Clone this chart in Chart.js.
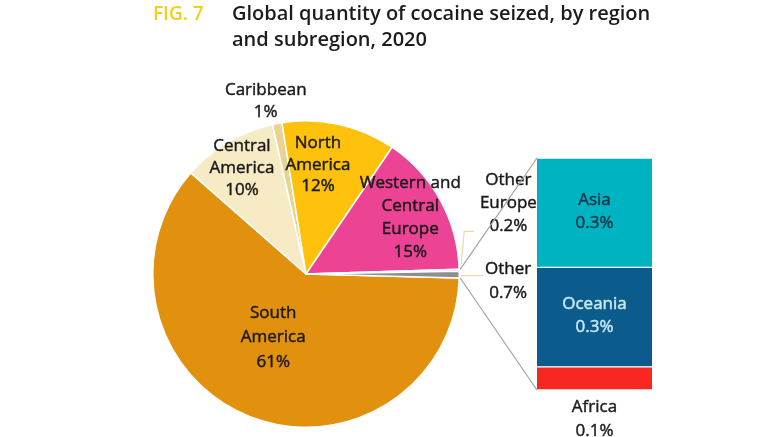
<!DOCTYPE html>
<html><head><meta charset="utf-8">
<script src="https://cdn.jsdelivr.net/npm/chart.js@4"></script>
<style>
html,body{margin:0;padding:0;background:#fff;width:767px;height:437px;overflow:hidden;}
#wrap{position:relative;width:767px;height:437px;}
canvas{position:absolute;left:0;top:0;}
.t{position:absolute;font-family:"Open Sans";font-weight:600;font-size:20px;line-height:26px;color:#1c1c1c;white-space:nowrap;}
</style></head><body>
<div id="wrap">
<canvas id="pie" width="767" height="437" style="width:767px;height:437px"></canvas>
<canvas id="bar" width="767" height="437" style="width:767px;height:437px"></canvas>
<div class="t" style="left:153px;top:0px;color:#F2CF1D;font-size:19px">FIG. 7</div>
<div class="t" style="left:232px;top:0px">Global quantity of cocaine seized, by region<br>and subregion, 2020</div>
</div>
<script>
// ---- data ----
const regionNames = ['South America','Central America','Caribbean','North America','Western and Central Europe','Other Europe','Other'];
const regionShares = [61, 10, 1, 12, 15, 0.2, 0.7];
const regionLabelLines = [['South','America'],['Central','America'],['Caribbean'],['North','America'],['Western and','Central','Europe'],['Other','Europe'],['Other']];
const otherNames = ['Asia','Oceania','Africa'];
const otherShares = [0.33, 0.30, 0.07];

// ---- styles / layout ----
const regionColors = ['#E2910E','#F7EBC5','#EBD28E','#FEC20C','#EC4395','#D8C3DC','#8E8E8E'];
const otherColors = ['#00B3C1','#0C5B8D','#F7271F'];
const otherTextColors = ['#17344A','#C8EAF8','#1e1e1e'];
const pieLabelLayout = [
  {da:6, r:0.465, lh:24.5}, {da:-0.4, r:0.81, lh:22}, {da:-2.3, r:1.155, lh:22}, {da:-6.3, r:0.717, lh:21.5},
  {da:0.3, r:0.774, lh:23}, {da:-18, r:1.40, lh:23}, {da:1.8, r:1.32, lh:24}
];
const FONT = '17px "Open Sans"';
const LH = 23;
const fmt = v => (v >= 1 ? String(v) : v.toFixed(1)) + '%';
function boldText(ctx, t, x, y){
  ctx.fillText(t, x, y);
  ctx.lineWidth = 0.45; ctx.strokeStyle = ctx.fillStyle; ctx.strokeText(t, x, y);
}

const pieLabelPlugin = {
  id:'pieLabels',
  afterDatasetsDraw(chart){
    const ctx = chart.ctx, arcs = chart.getDatasetMeta(0).data;
    ctx.save();
    // leader lines
    const oe = arcs[5], ot = arcs[6];
    ctx.strokeStyle = '#E9DCA6'; ctx.lineWidth = 1.2;
    let m = (oe.startAngle+oe.endAngle)/2;
    let ex = oe.x + Math.cos(m)*oe.outerRadius, ey = oe.y + Math.sin(m)*oe.outerRadius;
    ctx.beginPath(); ctx.moveTo(ex+2, ey-6); ctx.lineTo(ex+5, ey-39); ctx.lineTo(ex+15, ey-39); ctx.stroke();
    m = (ot.startAngle+ot.endAngle)/2;
    ex = ot.x + Math.cos(m)*ot.outerRadius; ey = ot.y + Math.sin(m)*ot.outerRadius;
    ctx.beginPath(); ctx.moveTo(ex+2, ey+1); ctx.lineTo(ex+24, ey+1); ctx.stroke();
    // labels
    ctx.font = FONT; ctx.fillStyle = '#1a1a1a'; ctx.textAlign = 'center'; ctx.textBaseline = 'middle';
    arcs.forEach((arc,i)=>{
      const L = pieLabelLayout[i];
      const a = (arc.startAngle+arc.endAngle)/2 + L.da*Math.PI/180;
      const r = arc.outerRadius*L.r;
      const x = arc.x + Math.cos(a)*r, y = arc.y + Math.sin(a)*r;
      const lines = [...regionLabelLines[i], fmt(regionShares[i])];
      const y0 = y - (lines.length-1)*L.lh/2;
      lines.forEach((t,j)=>boldText(ctx, t, x, y0 + j*L.lh));
    });
    ctx.restore();
  }
};

const pieChart = new Chart(document.getElementById('pie'), {
  type:'pie',
  data:{labels:regionNames, datasets:[{data:regionShares, backgroundColor:regionColors, borderColor:'#ffffff', borderWidth:1.5}]},
  options:{responsive:false, animation:false, rotation:91.5,
    layout:{padding:{left:152, top:120, right:307, bottom:9}},
    plugins:{legend:{display:false}, tooltip:{enabled:false}}},
  plugins:[pieLabelPlugin]
});

const barLabelPlugin = {
  id:'barLabels',
  afterDatasetsDraw(chart){
    const ctx = chart.ctx;
    ctx.save();
    // connectors from pie
    const arcs = pieChart.getDatasetMeta(0).data;
    const oe = arcs[5], ot = arcs[6];
    const nDs = chart.data.datasets.length;
    const topEl = chart.getDatasetMeta(nDs-1).data[0];
    const botEl = chart.getDatasetMeta(0).data[0];
    ctx.strokeStyle = '#A3A3A3'; ctx.lineWidth = 1.2;
    ctx.beginPath();
    ctx.moveTo(oe.x + Math.cos(oe.startAngle)*oe.outerRadius + 1, oe.y + Math.sin(oe.startAngle)*oe.outerRadius);
    ctx.lineTo(topEl.x - topEl.width/2, topEl.y);
    ctx.moveTo(ot.x + Math.cos(ot.endAngle)*ot.outerRadius + 1, ot.y + Math.sin(ot.endAngle)*ot.outerRadius);
    ctx.lineTo(botEl.x - botEl.width/2, botEl.base);
    ctx.stroke();
    // labels
    ctx.font = FONT; ctx.textAlign = 'center'; ctx.textBaseline = 'middle';
    chart.data.datasets.forEach((ds,k)=>{
      const i = ds._idx;
      const el = chart.getDatasetMeta(k).data[0];
      ctx.fillStyle = otherTextColors[i];
      const lines = [otherNames[i], fmt(otherShares[i])];
      if (i === 2) {
        lines.forEach((t,j)=>boldText(ctx, t, el.x, el.base + 17 + j*24));
      } else {
        const cy = (el.y + el.base)/2 - 1;
        lines.forEach((t,j)=>boldText(ctx, t, el.x, cy - LH/2 + j*LH));
      }
    });
    ctx.restore();
  }
};

const barDatasets = otherNames.map((n,i)=>({
  label:n, _idx:i, data:[otherShares[i]], backgroundColor:otherColors[i],
  borderColor:'#ffffff', borderWidth:{top:1,bottom:1,left:0,right:0}, borderSkipped:false,
  barPercentage:1, categoryPercentage:1
})).reverse();

const barChart = new Chart(document.getElementById('bar'), {
  type:'bar',
  data:{labels:['Other'], datasets:barDatasets},
  options:{responsive:false, animation:false,
    layout:{padding:{left:537, top:158, right:115, bottom:47}},
    scales:{x:{stacked:true, display:false}, y:{stacked:true, display:false, min:0, max:otherShares.reduce((a,b)=>a+b,0)}},
    plugins:{legend:{display:false}, tooltip:{enabled:false}}},
  plugins:[barLabelPlugin]
});
</script>
</body></html>
